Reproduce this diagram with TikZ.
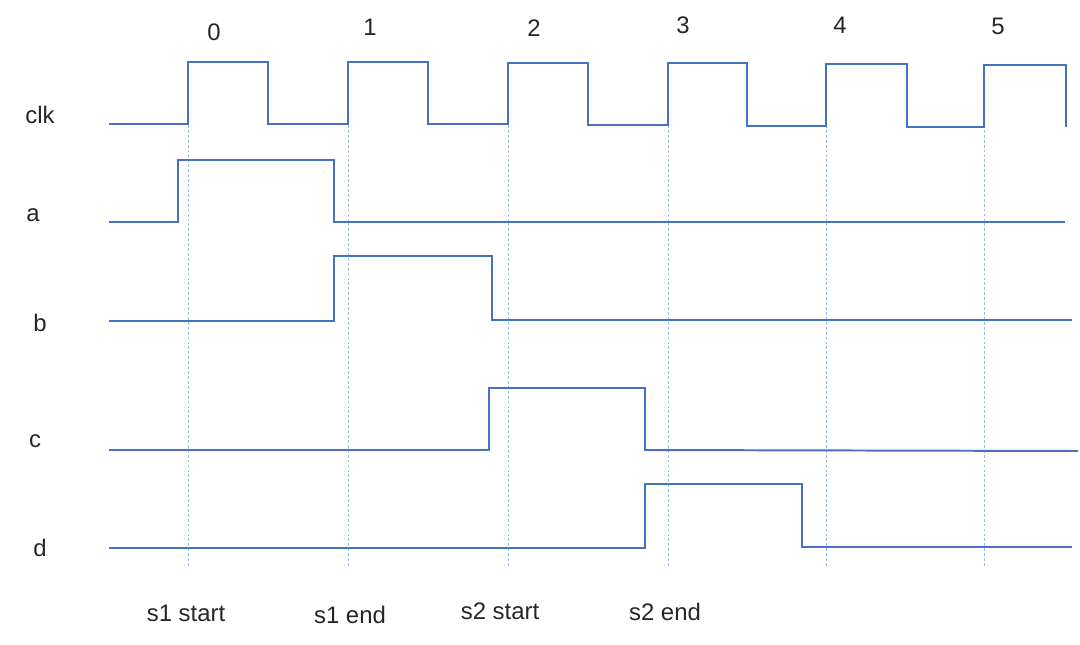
\documentclass[tikz,border=0pt]{standalone}
\usepackage{fontspec}
\setmainfont{Liberation Sans}
\usetikzlibrary{positioning}
\definecolor{wireblue}{HTML}{4472C4}
\definecolor{tickblue}{HTML}{9DB9E3}

\begin{document}
\begin{tikzpicture}
[x=0.025cm, y=-0.025cm, font=\fontsize{17}{20}\selectfont,
% STYLES
every node/.style={text=black!85, inner sep=0pt},
% The wave style is used for every signal trace
wave/.style={draw=wireblue, line width=1.4pt, line join=miter},
% Dotted guides at every rising clock edge
guide/.style={draw=tickblue, line width=0.6pt, dash pattern=on 2pt off 1.5pt},
signame/.style={anchor=center},
event/.style={anchor=center}]

\useasboundingbox (0,0) rectangle (1080,645);

% Signal names
\node [signame] (clk) at (40,115) {clk};
\node [signame] (a) at (33,215) {a};
\node [signame] (b) at (40,323) {b};
\node [signame] (c) at (35,441) {c};
\node [signame] (d) at (40,548) {d};

% Cycle numbers
\node [signame] (cyc0) at (214,32) {0};
\node [signame] (cyc1) at (370,27) {1};
\node [signame] (cyc2) at (534,28) {2};
\node [signame] (cyc3) at (683,25) {3};
\node [signame] (cyc4) at (840,25) {4};
\node [signame] (cyc5) at (998,26) {5};

% Events
\node [event] (s1-start) at (186,613) {s1 start};
\node [event] (s1-end) at (350,615) {s1 end};
\node [event] (s2-start) at (500,611) {s2 start};
\node [event] (s2-end) at (665,612) {s2 end};

%%%%%%%%%%%%%%%%

\foreach \x in {188,348,508,668,826,984}
  \draw[guide] (\x,125) -- (\x,566);

\draw[wave] (109,124) -- (188,124) -- (188,62) -- (268,62) -- (268,124)
  -- (348,124) -- (348,62) -- (428,62) -- (428,124)
  -- (508,124) -- (508,63) -- (588,63) -- (588,125)
  -- (668,125) -- (668,63) -- (747,63) -- (747,126)
  -- (826,126) -- (826,64) -- (907,64) -- (907,127)
  -- (984,127) -- (984,65) -- (1066,65) -- (1066,127);

\draw[wave] (109,222) -- (178,222) -- (178,160) -- (334,160) -- (334,222) -- (1065,222);
\draw[wave] (109,321) -- (334,321) -- (334,256) -- (492,256) -- (492,320) -- (1072,320);
\draw[wave] (109,450) -- (489,450) -- (489,388) -- (645,388) -- (645,450) -- (1078,451);
\draw[wave] (109,548) -- (645,548) -- (645,484) -- (802,484) -- (802,547) -- (1072,547);

\end{tikzpicture}
\end{document}
